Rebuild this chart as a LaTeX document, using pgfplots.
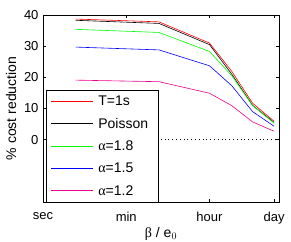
\documentclass[border=0pt]{standalone}
\usepackage{fontspec}
\setmainfont{Liberation Sans}
\newfontfamily\greekserif{Liberation Serif}
\usepackage{pgfplots}
\pgfplotsset{compat=1.18}
\usetikzlibrary{calc}
\pgfplotsset{
  myleg/.style={legend image code/.code={%
    \node[inner sep=0pt, outer sep=0pt, anchor=west, text=#1] at (2pt,0pt) {\rule[-0.4pt]{42pt}{0.8pt}};}},
}
\begin{document}
\begin{tikzpicture}[x=1pt,y=1pt]
\begin{axis}[name=ax,
  scale only axis, width=236pt, height=187pt,
  xmode=log, xmin=1, xmax=1.1e5, ymin=-20, ymax=40,
  xtick={1,60,3600,86400}, xticklabels={sec,min,hour,day},
  ytick={0,10,20,30,40},
  minor xtick={}, log ticks with fixed point,
  tick align=inside, major tick length=3pt,
  tick style={black, line width=0.4pt},
  axis line style={line width=0.6pt},
  /pgf/number format/assume math mode=true,
  ticklabel style={font=\fontsize{13}{15}\selectfont},
  xticklabel style={yshift=-7pt},
  yticklabel style={xshift=-1pt},
  label style={font=\fontsize{14}{16}\selectfont},
  xlabel={{\greekserif β} / e$_0$},
  ylabel={\% cost reduction},
  xlabel style={yshift=4pt},
  ylabel style={yshift=1pt},
  legend style={at={(rel axis cs:0.013,0.599)}, anchor=north west,
    font=\fontsize{14}{16}\selectfont, draw=black, line width=0.5pt,
    row sep=7pt, inner xsep=5pt, inner ysep=4pt,
    nodes={inner xsep=5pt},
    legend cell align=left},
]
\addplot[black, line width=0.5pt, dash pattern=on 0.6pt off 3.2pt, forget plot] coordinates {(1,0) (1.1e5,0)};
\addplot[red, line width=0.6pt, myleg=red] coordinates {(5,38.7) (300,37.8) (3600,31.0) (10800,21.9) (30000,11.7) (86400,5.9)};
\addlegendentry{T=1s}
\addplot[black, line width=0.6pt, myleg=black] coordinates {(5,38.3) (300,37.3) (3600,30.5) (10800,21.0) (30000,11.0) (86400,5.5)};
\addlegendentry{Poisson}
\addplot[green, line width=0.6pt, myleg=green] coordinates {(5,35.4) (300,34.4) (3600,28.3) (10800,20.5) (30000,10.9) (86400,5.3)};
\addlegendentry{{\greekserif α}=1.8}
\addplot[blue, line width=0.6pt, myleg=blue] coordinates {(5,29.7) (300,28.8) (3600,23.7) (10800,17.3) (30000,9.0) (86400,4.3)};
\addlegendentry{{\greekserif α}=1.5}
\addplot[magenta, line width=0.6pt, myleg=magenta] coordinates {(5,19.1) (300,18.6) (3600,14.9) (10800,10.9) (30000,5.7) (86400,2.7)};
\addlegendentry{{\greekserif α}=1.2}
\end{axis}
\pgfresetboundingbox
\path[use as bounding box] ($(ax.south west)+(-43pt,-40pt)$) rectangle ($(ax.north east)+(12pt,15pt)$);
\end{tikzpicture}
\end{document}
